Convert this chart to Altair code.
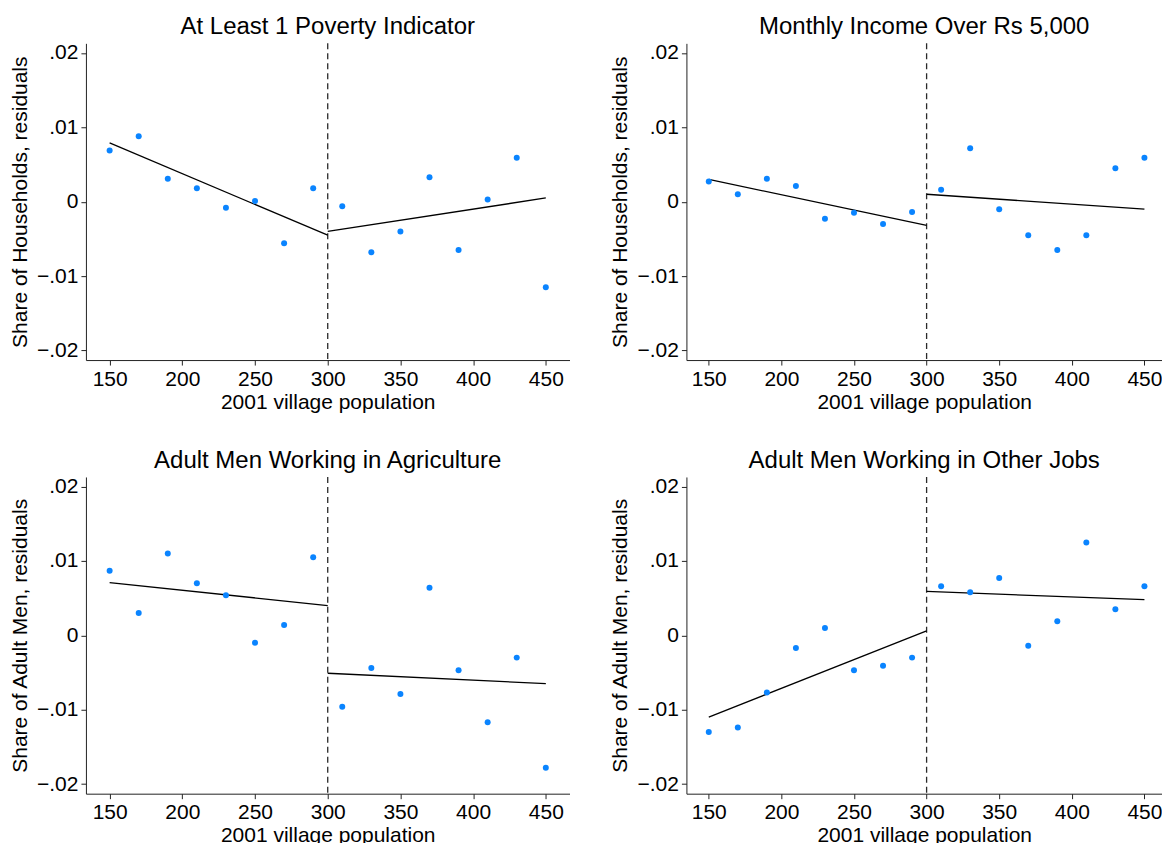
import altair as alt
import pandas as pd

# ---- data ----
bins = [150, 170, 190, 210, 230, 250, 270, 290, 310, 330, 350, 370, 390, 410, 430, 450]

titles = [
    "At Least 1 Poverty Indicator",
    "Monthly Income Over Rs 5,000",
    "Adult Men Working in Agriculture",
    "Adult Men Working in Other Jobs",
]
ytitles = [
    "Share of Households, residuals",
    "Share of Households, residuals",
    "Share of Adult Men, residuals",
    "Share of Adult Men, residuals",
]

poverty = [0.0069, 0.0088, 0.0031, 0.0018, -0.0008, 0.0001, -0.0056, 0.0018,
           -0.0006, -0.0068, -0.0040, 0.0033, -0.0065, 0.0003, 0.0059, -0.0115]
income = [0.0027, 0.0010, 0.0031, 0.0021, -0.0023, -0.0015, -0.0030, -0.0014,
          0.0016, 0.0072, -0.0010, -0.0045, -0.0065, -0.0045, 0.0045, 0.0059]
agri = [0.0087, 0.0030, 0.0110, 0.0070, 0.0054, -0.0010, 0.0014, 0.0105,
        -0.0096, -0.0044, -0.0079, 0.0064, -0.0047, -0.0117, -0.0030, -0.0178]
other = [-0.0130, -0.0124, -0.0077, -0.0017, 0.0010, -0.0047, -0.0041, -0.0030,
         0.0066, 0.0058, 0.0077, -0.0014, 0.0019, 0.0125, 0.0035, 0.0066]

# fitted line end points: (left start, left end, right start, right end)
line_x = [150, 300, 300, 450]
line_seg = ["left", "left", "right", "right"]
poverty_fit = [0.0079, -0.0045, -0.0040, 0.0005]
income_fit = [0.0030, -0.0032, 0.0010, -0.0010]
agri_fit = [0.0071, 0.0040, -0.0051, -0.0065]
other_fit = [-0.0110, 0.0006, 0.0059, 0.0048]

cutoff = 300
y_ticks = [-0.02, -0.01, 0, 0.01, 0.02]
x_ticks = [150, 200, 250, 300, 350, 400, 450]

series = [poverty, income, agri, other]
fits = [poverty_fit, income_fit, agri_fit, other_fit]

FONT = "Liberation Sans"
DOT = "#0a84ff"

ylab = ("datum.value == 0 ? '0' : replace(replace(format(datum.value, '.2f'), '0.', '.'), '-', '\u2212')")


def panel(i, xdomain, width):
    pts = pd.DataFrame({"x": bins, "y": series[i]})
    fit = pd.DataFrame({"x": line_x, "y": fits[i], "seg": line_seg})
    xsc = alt.Scale(domain=xdomain, nice=False, zero=False)
    ysc = alt.Scale(domain=[-0.0213, 0.0213], nice=False, zero=False)
    xax = alt.Axis(values=x_ticks, title="2001 village population", format="d")
    yax = alt.Axis(values=y_ticks, title=ytitles[i], labelExpr=ylab)

    rule = alt.Chart(pd.DataFrame({"c": [cutoff]})).mark_rule(
        color="#2a2a2a", strokeDash=[6, 4], strokeWidth=1.3
    ).encode(x=alt.X("c:Q", scale=xsc, axis=xax))

    dots = alt.Chart(pts).mark_circle(color=DOT, size=36, opacity=1).encode(
        x=alt.X("x:Q", scale=xsc, axis=xax),
        y=alt.Y("y:Q", scale=ysc, axis=yax),
    )
    lines = alt.Chart(fit).mark_line(color="black", strokeWidth=1.3).encode(
        x=alt.X("x:Q", scale=xsc, axis=xax),
        y=alt.Y("y:Q", scale=ysc, axis=yax),
        detail="seg:N",
    )
    return alt.layer(rule, lines, dots).properties(
        width=width,
        height=317,
        title=alt.TitleParams(titles[i], fontSize=24, font=FONT, fontWeight="normal",
                              color="black", offset=3),
    )


left_dom = [133.7, 466.3]
right_dom = [134.6, 462.1]

row1 = alt.hconcat(panel(0, left_dom, 484), panel(1, right_dom, 476), spacing=40)
row2 = alt.hconcat(panel(2, left_dom, 484), panel(3, right_dom, 476), spacing=40)

chart = alt.vconcat(row1, row2, spacing=36).properties(
    padding={"left": 1, "top": 6, "right": 0, "bottom": 0}
).configure_view(stroke=None).configure_axis(
    grid=False,
    labelFont=FONT,
    titleFont=FONT,
    labelFontSize=21,
    titleFontSize=21,
    titleFontWeight="normal",
    labelColor="black",
    titleColor="black",
    domainColor="#222222",
    tickColor="#222222",
    tickSize=5,
    labelPadding=3,
    domainWidth=1,
    tickWidth=1,
).configure_axisY(
    titlePadding=6.5,
    labelAngle=0,
).configure_axisX(
    titlePadding=2,
).configure_concat(spacing=40)

chart.save("out.html", embed_options={"renderer": "svg", "actions": False})
